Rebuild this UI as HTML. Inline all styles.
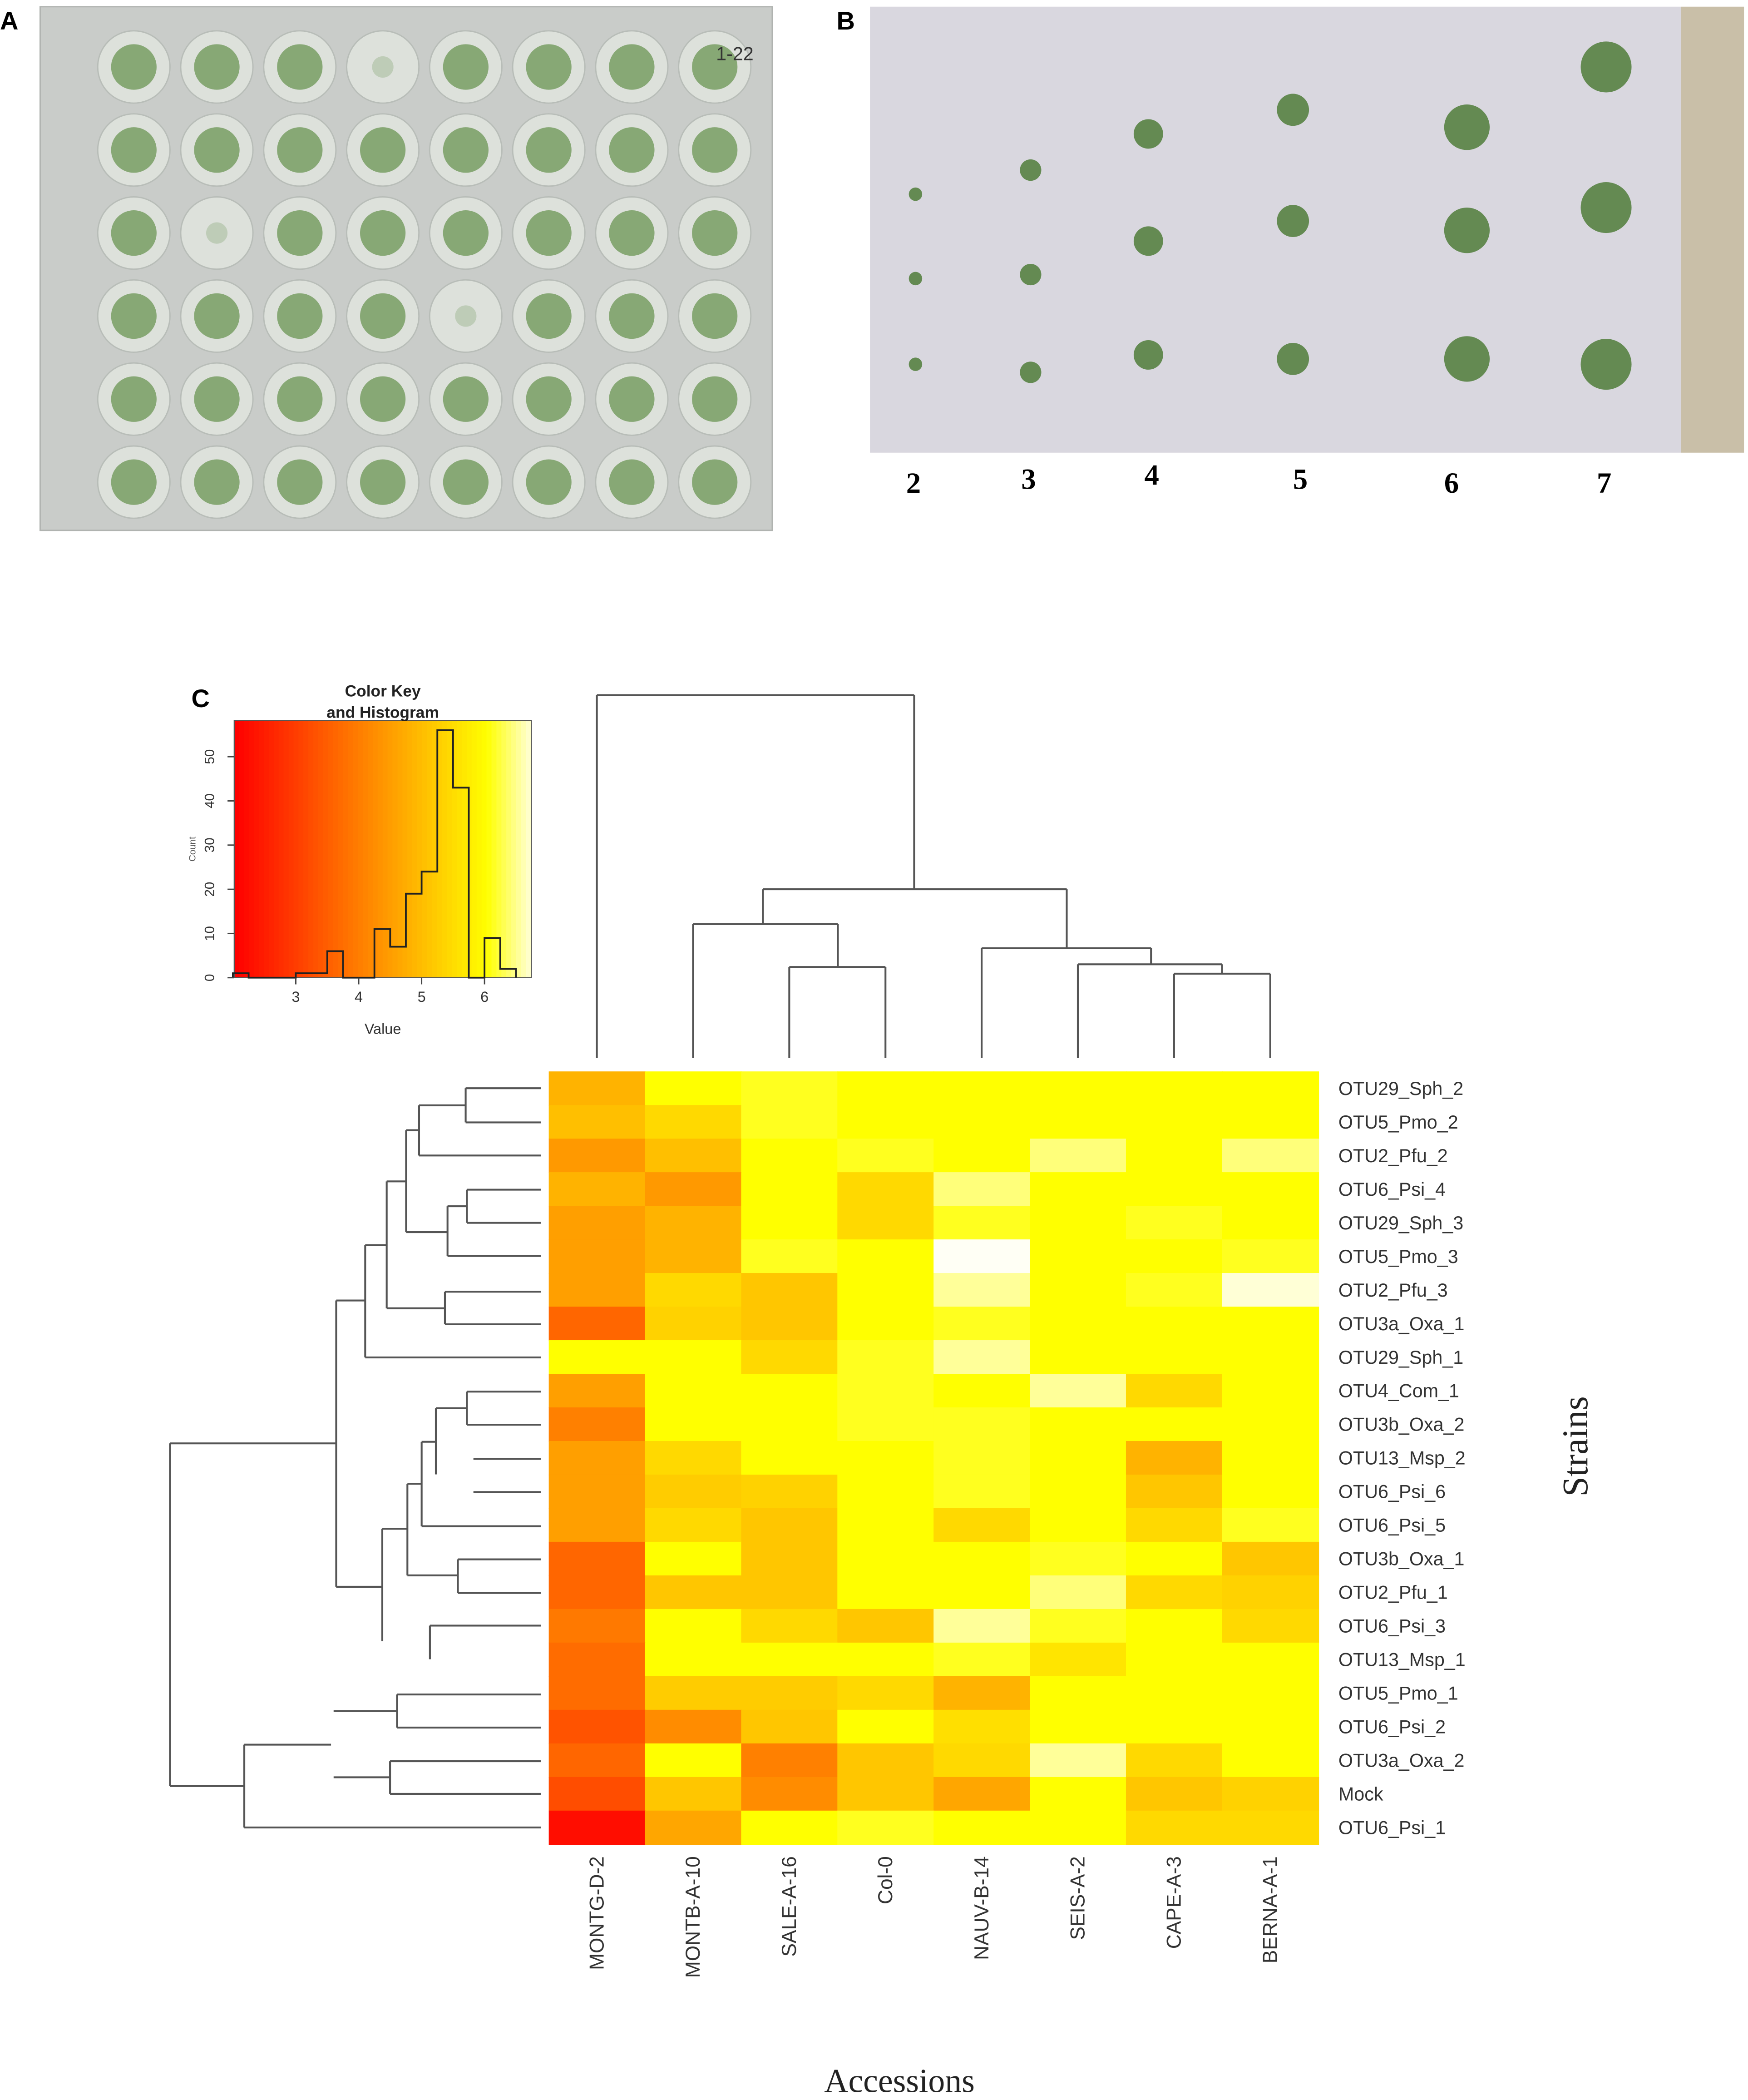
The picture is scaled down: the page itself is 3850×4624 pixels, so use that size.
<!DOCTYPE html>
<html><head><meta charset="utf-8"><style>
html,body{margin:0;padding:0;background:#fff;}
svg{display:block;}
text{font-family:"Liberation Sans",sans-serif;}
</style></head><body>
<svg id="fig" width="3850" height="4624" viewBox="0 0 1306 1568" preserveAspectRatio="none" xmlns="http://www.w3.org/2000/svg">
<rect x="0" y="0" width="1306" height="1568" fill="#fff"/>
<g>
<rect x="30" y="5" width="547" height="391" fill="#c9ccc9" stroke="#b0b3b0"/>
<g id="wells"></g>
<text x="535" y="45" font-size="14" fill="#333">1-22</text>
</g>
<text x="0" y="22" font-size="19" font-weight="bold">A</text>
<g>
<rect x="650" y="5" width="606" height="333" fill="#d9d7df"/>
<rect x="1256" y="5" width="47" height="333" fill="#c9bfa8"/>
<g id="plantsB"></g>
</g>
<text x="625" y="22" font-size="19" font-weight="bold">B</text>
<g font-size="22" font-weight="bold">
<text x="677" y="368" style="font-family:'Liberation Serif',serif">2</text>
<text x="763" y="365" style="font-family:'Liberation Serif',serif">3</text>
<text x="855" y="362" style="font-family:'Liberation Serif',serif">4</text>
<text x="966" y="365" style="font-family:'Liberation Serif',serif">5</text>
<text x="1079" y="368" style="font-family:'Liberation Serif',serif">6</text>
<text x="1193" y="368" style="font-family:'Liberation Serif',serif">7</text>
</g>
<text x="143" y="528" font-size="19" font-weight="bold">C</text>
<g id="colorkey"></g>
<g id="heat"></g>
<g id="dendL" stroke="#555" stroke-width="1.4" fill="none"></g>
<g id="dendT" stroke="#555" stroke-width="1.4" fill="none"></g>
<g id="rowlab"></g>
<g id="collab"></g>
<text transform="translate(1186,1080) rotate(-90)" text-anchor="middle" font-size="27" style="font-family:'Liberation Serif',serif" fill="#222">Strains</text>
<text x="672" y="1562" text-anchor="middle" font-size="25" style="font-family:'Liberation Serif',serif" fill="#222">Accessions</text>
</svg>
<script>
const rows=["OTU29_Sph_2","OTU5_Pmo_2","OTU2_Pfu_2","OTU6_Psi_4","OTU29_Sph_3","OTU5_Pmo_3","OTU2_Pfu_3","OTU3a_Oxa_1","OTU29_Sph_1","OTU4_Com_1","OTU3b_Oxa_2","OTU13_Msp_2","OTU6_Psi_6","OTU6_Psi_5","OTU3b_Oxa_1","OTU2_Pfu_1","OTU6_Psi_3","OTU13_Msp_1","OTU5_Pmo_1","OTU6_Psi_2","OTU3a_Oxa_2","Mock","OTU6_Psi_1"];
const cols=["MONTG-D-2","MONTB-A-10","SALE-A-16","Col-0","NAUV-B-14","SEIS-A-2","CAPE-A-3","BERNA-A-1"];
const values=[
[4.8,6,6.1,6,6,6,6,6],
[5.0,5.4,6.1,6,6,6,6,6],
[4.4,5.0,6,6.1,6,6.4,6,6.4],
[4.8,4.4,6,5.4,6.4,6,6,6],
[4.5,4.8,6,5.4,6.1,6,6.1,6],
[4.5,4.8,6.1,6,6.8,6,6,6.1],
[4.5,5.4,5.1,6,6.5,6,6.1,6.7],
[3.6,5.3,5.1,6,6.1,6,6,6],
[6,6,5.4,6.1,6.5,6,6,6],
[4.5,6,6,6.1,6,6.5,5.4,6],
[4.0,6,6,6.1,6.1,6,6,6],
[4.5,5.4,6,6,6.1,6,4.8,6],
[4.5,5.2,5.3,6,6.1,6,5.1,6],
[4.5,5.4,5.1,6,5.4,6,5.4,6.1],
[3.6,6,5.1,6,6,6.1,6,5.1],
[3.6,5.1,5.1,6,6,6.4,5.4,5.3],
[3.9,6,5.4,5.1,6.5,6.1,6,5.4],
[3.7,6,6,6,6.1,5.6,6,6],
[3.7,5.2,5.2,5.4,4.8,6,6,6],
[3.3,4.2,5.1,6,5.5,6,6,6],
[3.6,6,4.0,5.1,5.4,6.5,5.4,6],
[3.2,5.1,4.2,5.1,4.6,6,5.1,5.3],
[2.2,4.6,6,6.1,6,6,5.4,5.4]];
const histBins=[2.0,2.25,2.5,2.75,3.0,3.25,3.5,3.75,4.0,4.25,4.5,4.75,5.0,5.25,5.5,5.75,6.0,6.25,6.5];
const histCounts=[1,0,0,0,1,1,6,0,0,11,7,19,24,56,43,0,9,2];
const histTicksX=[3,4,5,6];
const histTicksY=[0,10,20,30,40,50];
const NS="http://www.w3.org/2000/svg";
function mk(tag,attrs,parent){const e=document.createElementNS(NS,tag);for(const k in attrs)e.setAttribute(k,attrs[k]);parent.appendChild(e);return e;}
function heat(v){let r=255,g,b=0;if(v<6){g=Math.max(0,Math.min(255,255*(v-2)/4));}else{g=255;b=Math.min(255,255*(v-6)*1.2);}return `rgb(${r},${Math.round(g)},${Math.round(b)})`;}
const HX=410,HY=800,HW=575,HH=577;
const cw=HW/cols.length,rh=HH/rows.length;
const xCol=i=>HX+cw*i, yRow=i=>HY+rh*i;
const heatG=document.getElementById('heat');
values.forEach((row,r)=>row.forEach((v,c)=>{
 const e=mk('rect',{x:xCol(c),y:yRow(r),width:cw+0.5,height:rh+0.5,fill:heat(v)},heatG);
 
 
}));
const rl=document.getElementById('rowlab');
rows.forEach((n,i)=>{const t=mk('text',{x:1000,y:yRow(i)+rh/2+5,'font-size':14,fill:'#333'},rl);t.textContent=n;
 
 });
const cl=document.getElementById('collab');
cols.forEach((n,i)=>{const x=xCol(i)+cw/2+5;const t=mk('text',{transform:`translate(${x},1386) rotate(-90)`,'text-anchor':'end','font-size':15,fill:'#333'},cl);t.textContent=n;
 
 });
const segs=[[1210,62,1500,62],[1210,128,1500,128],[1210,62,1210,128],[1030,95,1210,95],[1030,192,1500,192],[1030,95,1030,192],
[1215,258,1500,258],[1215,322,1500,322],[1215,258,1215,322],[1140,290,1215,290],[1140,386,1500,386],[1140,290,1140,386],
[980,143,1030,143],[980,340,1140,340],[980,143,980,340],[1130,455,1500,455],[1130,518,1500,518],[1130,455,1130,518],
[905,242,980,242],[905,487,1130,487],[905,242,905,487],[822,365,905,365],[822,582,1500,582],[822,365,822,582],
[1215,648,1500,648],[1215,712,1500,712],[1215,648,1215,712],[1095,680,1215,680],[1095,680,1095,808],[1240,778,1500,778],[1240,842,1500,842],
[1040,745,1095,745],[1040,908,1500,908],[1040,745,1040,908],[1180,972,1500,972],[1180,1037,1500,1037],[1180,972,1180,1037],
[985,826,1040,826],[985,1003,1180,1003],[985,826,985,1003],[888,913,985,913],[888,913,888,1130],[1072,1100,1500,1100],[1072,1100,1072,1165],
[710,472,822,472],[710,1025,888,1025],[710,472,710,1025],[945,1233,1500,1233],[945,1297,1500,1297],[945,1233,945,1297],[700,1265,945,1265],
[918,1362,1500,1362],[918,1425,1500,1425],[918,1362,918,1425],[700,1393,918,1393],[355,1330,690,1330],[355,1490,1500,1490],[355,1330,355,1490],
[68,748,710,748],[68,1410,355,1410],[68,748,68,1410]];
const dx=z=>127+(z-68)*(277/1432), dy=z=>HY+rh/2+(z-62)*(rh/64.9);
const dL=document.getElementById('dendL');
segs.forEach(s=>mk('line',{x1:dx(s[0]),y1:dy(s[1]),x2:dx(s[2]),y2:dy(s[3])},dL));
const cc=i=>xCol(i)+cw/2;
const tsegs=[[cc(0),519,cc(0),790],[cc(0),519,683,519],[683,519,683,664],[570,664,797,664],[570,664,570,690],[cc(1),690,626,690],[cc(1),690,cc(1),790],
[626,690,626,722],[cc(2),722,cc(3),722],[cc(2),722,cc(2),790],[cc(3),722,cc(3),790],[797,664,797,690],[cc(4),708,860,708],[797,690,797,708],[cc(4),708,cc(4),790],
[860,708,860,720],[cc(5),720,913,720],[cc(5),720,cc(5),790],[913,720,913,727],[cc(6),727,cc(7),727],[cc(6),727,cc(6),790],[cc(7),727,cc(7),790]];
const dT=document.getElementById('dendT');
tsegs.forEach(s=>mk('line',{x1:s[0],y1:s[1],x2:s[2],y2:s[3]},dT));
const ck=document.getElementById('colorkey');
const KX=175,KY=538,KW=222,KH=192;
const kx=v=>221+(v-3)*47, ky=c=>730-c*3.3;
for(let i=0;i<60;i++){const v0=2.02+i*(4.72/60);mk('rect',{x:kx(v0),y:KY,width:KW/60+0.6,height:KH,fill:heat(v0)},ck);}
mk('rect',{x:KX,y:KY,width:KW,height:KH,fill:'none',stroke:'#555','stroke-width':0.8},ck);
let d=`M${kx(histBins[0])},${ky(0)}`;
histCounts.forEach((c,i)=>{d+=` L${kx(histBins[i])},${ky(c)} L${kx(histBins[i+1])},${ky(c)}`;});
d+=` L${kx(histBins[histBins.length-1])},${ky(0)}`;
mk('path',{d:d,fill:'none',stroke:'#222','stroke-width':1.3},ck);
histTicksX.forEach(v=>{mk('line',{x1:kx(v),y1:730,x2:kx(v),y2:735,stroke:'#444'},ck);const t=mk('text',{x:kx(v),y:748,'font-size':11,'text-anchor':'middle',fill:'#333'},ck);t.textContent=v;});
histTicksY.forEach(v=>{mk('line',{x1:170,y1:ky(v),x2:175,y2:ky(v),stroke:'#444'},ck);const t=mk('text',{transform:`translate(160,${ky(v)}) rotate(-90)`,'font-size':10,'text-anchor':'middle',fill:'#333'},ck);t.textContent=v;});
let t=mk('text',{x:286,y:772,'font-size':11,'text-anchor':'middle',fill:'#333'},ck);t.textContent='Value';
t=mk('text',{transform:'translate(146,634) rotate(-90)','font-size':7,'text-anchor':'middle',fill:'#555'},ck);t.textContent='Count';
t=mk('text',{x:286,y:520,'font-size':12,'font-weight':'bold','text-anchor':'middle',fill:'#222'},ck);t.textContent='Color Key';
t=mk('text',{x:286,y:536,'font-size':12,'font-weight':'bold','text-anchor':'middle',fill:'#222'},ck);t.textContent='and Histogram';
const wg=document.getElementById('wells');
for(let r=0;r<6;r++)for(let c=0;c<8;c++){const x=100+c*62,y=50+r*62;
 mk('circle',{cx:x,cy:y,r:27,fill:'#dde1db',stroke:'#b8bdb8'},wg);
 const pale=(r==0&&c==3)||(r==3&&c==4)||(r==2&&c==1);
 mk('circle',{cx:x,cy:y,r:pale?8:17,fill:pale?'#b9c8b0':'#789e63',opacity:0.85},wg);}
const pb=document.getElementById('plantsB');
const px=[684,770,858,966,1096,1200],sz=[5,8,11,12,17,19],py=[[145,208,272],[127,205,278],[100,180,265],[82,165,268],[95,172,268],[50,155,272]];
px.forEach((x,i)=>py[i].forEach(y=>mk('circle',{cx:x,cy:y,r:sz[i],fill:'#4f7d3a',opacity:0.85},pb)));
</script>
</body></html>
